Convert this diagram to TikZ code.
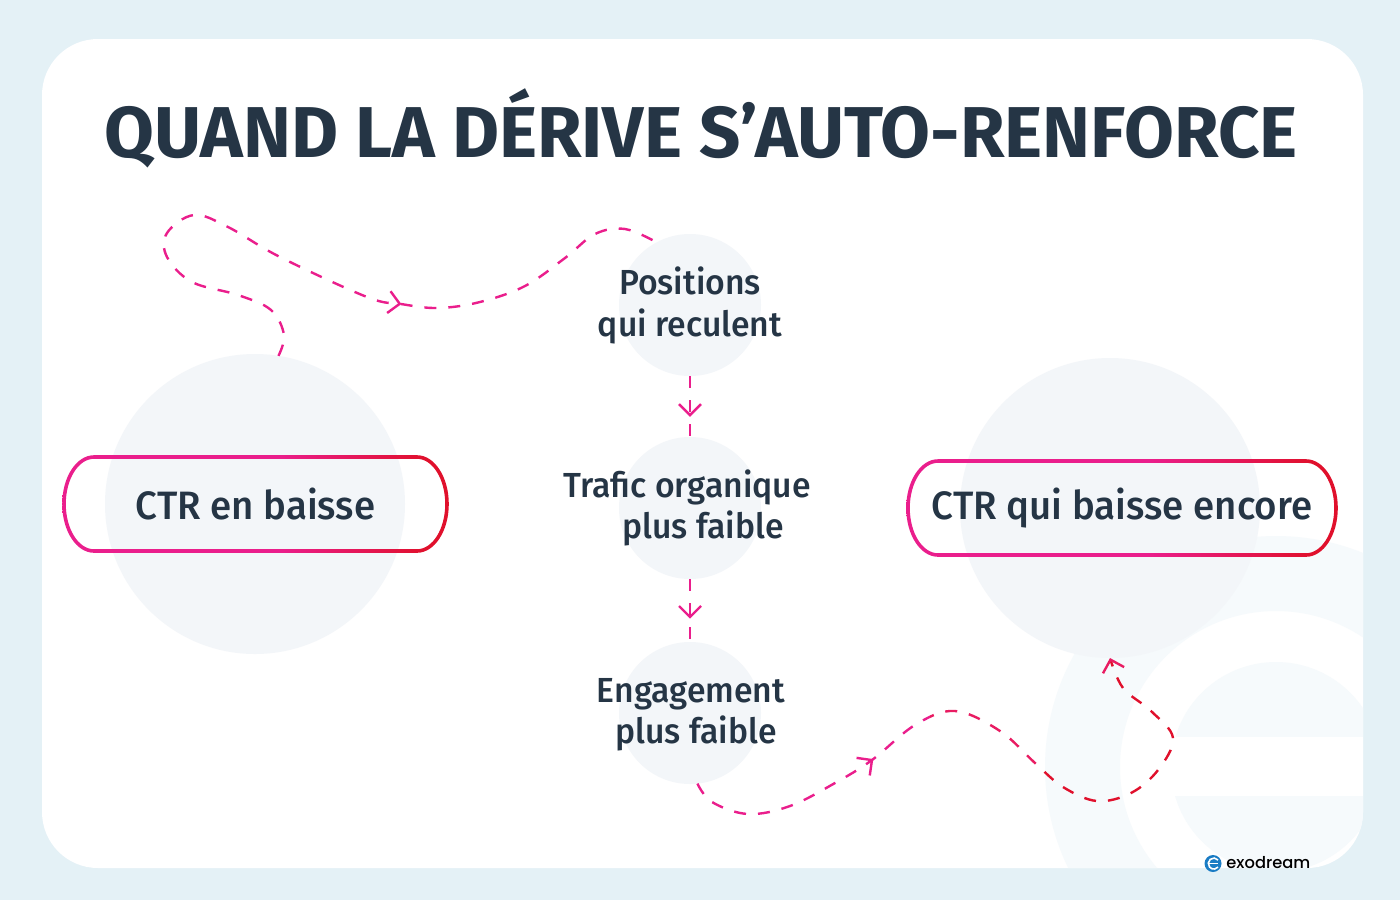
\documentclass[tikz,border=0pt]{standalone}
\usepackage{fontspec}
\setmainfont{Fira Sans}[UprightFont=* Medium,BoldFont=* Bold]
\newfontfamily\titlefont{Fira Sans Bold}[FakeStretch=1.004]
\newfontfamily\bodyfont{Fira Sans Medium}[FakeStretch=0.97]
\newfontfamily\logofont{Poppins Medium}
\usetikzlibrary{calc,positioning,arrows.meta,decorations.markings}

\definecolor{pagebg}{HTML}{E4F1F6}
\definecolor{bubble}{HTML}{F3F6F9}
\definecolor{ghost}{HTML}{F6FAFC}
\definecolor{ink}{HTML}{253545}
\definecolor{flowpink}{HTML}{EA1E8C}
\definecolor{flowmid}{HTML}{E91C62}
\definecolor{flowred}{HTML}{E0102C}
\definecolor{logoblue}{HTML}{1A7CC4}
\pgfdeclarehorizontalshading{pillgrad}{100bp}{color(0bp)=(flowpink); color(53bp)=(flowpink); color(72bp)=(flowred); color(100bp)=(flowred)}

% pill outline at offset #2 from node #1
\newcommand{\pilloutline}[2]{
  ($(#1.north west)+(30,-#2)$) -- ($(#1.north east)+(-30,-#2)$)
  arc[start angle=-90,end angle=90,x radius=30+#2,y radius=47+#2]
  -- ($(#1.south west)+(30,#2)$)
  arc[start angle=90,end angle=270,x radius=30+#2,y radius=47+#2] -- cycle}

% ring with a colour gradient around a pill node
\newcommand{\pillring}[1]{%
  \begin{scope}
    \pgfseteorule
    \clip \pilloutline{#1}{1.8} \pilloutline{#1}{-1.8};
    \shade[shading=pillgrad] ($(#1.north west)+(-2,-2)$) rectangle ($(#1.south east)+(2,2)$);
  \end{scope}}

% the way back from the third bubble
\newcommand{\backpath}{plot[smooth,tension=0.6] coordinates {(c_eng.-84) (712,802) (748,814) (790,806) (835,783) (872,760) (915,725) (955,711) (1000,731) (1035,763) (1063,787) (1097,801) (1131,793) (1158,770) (1173,738) (1151,711) (1123,688) (1110,658)}}

\begin{document}
\begin{tikzpicture}[x=0.5pt,y=-0.5pt,
    bubblenode/.style={circle,fill=bubble,inner sep=0pt,outer sep=0pt,minimum size=71pt},
    bigbubble/.style={circle,fill=bubble,inner sep=0pt,outer sep=0pt,minimum size=150pt},
    pill/.style={rectangle,inner sep=0pt,outer sep=0pt,minimum height=47pt},
    pilltext/.style={font=\bodyfont\fontsize{19.8}{21}\selectfont,text=ink,inner sep=0pt},
    label/.style={font=\bodyfont\fontsize{17.4}{20.7}\selectfont,text=ink,align=center,inner sep=0pt},
    plainflow/.style={line width=1.2pt,dash pattern=on 6pt off 6pt},
    flow/.style={plainflow,draw=flowpink,
      postaction={decorate},decoration={markings,
        mark=at position #1 with {\arrow[flowpink,solid]{Straight Barb[length=5.5pt,width=11pt,line width=1.2pt]}}}}]
  \useasboundingbox (0,0) rectangle (1400,900);
  \fill[pagebg] (0,0) rectangle (1400,900);
  \fill[white,rounded corners=28pt] (42,39) rectangle (1363,868);

  % ghost logo in the corner of the card
  \begin{scope}
    \clip[rounded corners=28pt] (42,39) rectangle (1363,868);
    \fill[ghost,even odd rule] (1276,767) circle[radius=231] (1276,767) circle[radius=156];
    \fill[ghost] (1276,767) circle[radius=105];
    \fill[white] (1165,737) rectangle (1363,796);
  \end{scope}

  \node[bigbubble] (c_ctr) at (255,504) {};
  \node[bigbubble] (c_again) at (1110,508) {};
  \node[bubblenode] (c_pos) at (690,305) {};
  \node[bubblenode] (c_trafic) [below=30.5pt of c_pos] {};
  \node[bubblenode] (c_eng) [below=31.5pt of c_trafic] {};

  \node[pill,minimum width=191.5pt] (p_ctr) at (255.5,504) {};
  \node[pill,minimum width=214pt] (p_again) at (1122,508) {};
  \pillring{p_ctr}
  \pillring{p_again}

  \node[font=\titlefont\fontsize{36}{40}\selectfont,text=ink,inner sep=0pt] (title) at (701,128) {QUAND LA DÉRIVE S’AUTO-RENFORCE};
  \node[pilltext] (t_ctr) at (p_ctr) {CTR en baisse};
  \node[pilltext] (t_again) at (p_again) {CTR qui baisse encore};
  \node[label] (t_pos) at (690,305.5) {Positions\\qui reculent};
  \node[label] (t_trafic) at (687,508) {Trafic organique\\\hspace*{16pt}plus faible};
  \node[label] (t_eng) at (691,715) {Engagement\\\hspace*{5pt}plus faible};

  \path (c_pos) edge[flow=0.67] (c_trafic)
        (c_trafic) edge[flow=0.63] (c_eng);

  \draw[flow=0.62] plot[smooth,tension=0.6] coordinates {(c_ctr.81) (284,335) (271,310) (238,295) (192,282) (167,257) (167,233) (194,215) (228,227) (280,257) (367,297) (401,304) (438,308) (480,302) (525,286) (565,258) (595,234) (625,229) (c_pos.118)};

  \foreach \xa/\xb/\col in {640/930/flowpink,930/1040/flowmid,1040/1200/flowred}{
    \begin{scope}
      \clip (\xa,640) rectangle (\xb,830);
      \draw[flow=0.295,draw=\col,-{Straight Barb[length=5.5pt,width=11pt,line width=1.2pt,color=flowmid]}] \backpath;
    \end{scope}}

  % logo
  \fill[logoblue] (1213,863.5) circle[radius=8.5] coordinate (logo);
  \draw[white,line width=0.8pt] (1208.5,863.5) -- (1218,863.5);
  \draw[white,line width=0.8pt] (1218,860) arc[start angle=-40,end angle=-320,radius=5.5];
  \node[font=\logofont\fontsize{8.15}{10}\selectfont,text=black,inner sep=0pt,anchor=west] (brand) at (1226,863) {exodream};
\end{tikzpicture}
\end{document}
